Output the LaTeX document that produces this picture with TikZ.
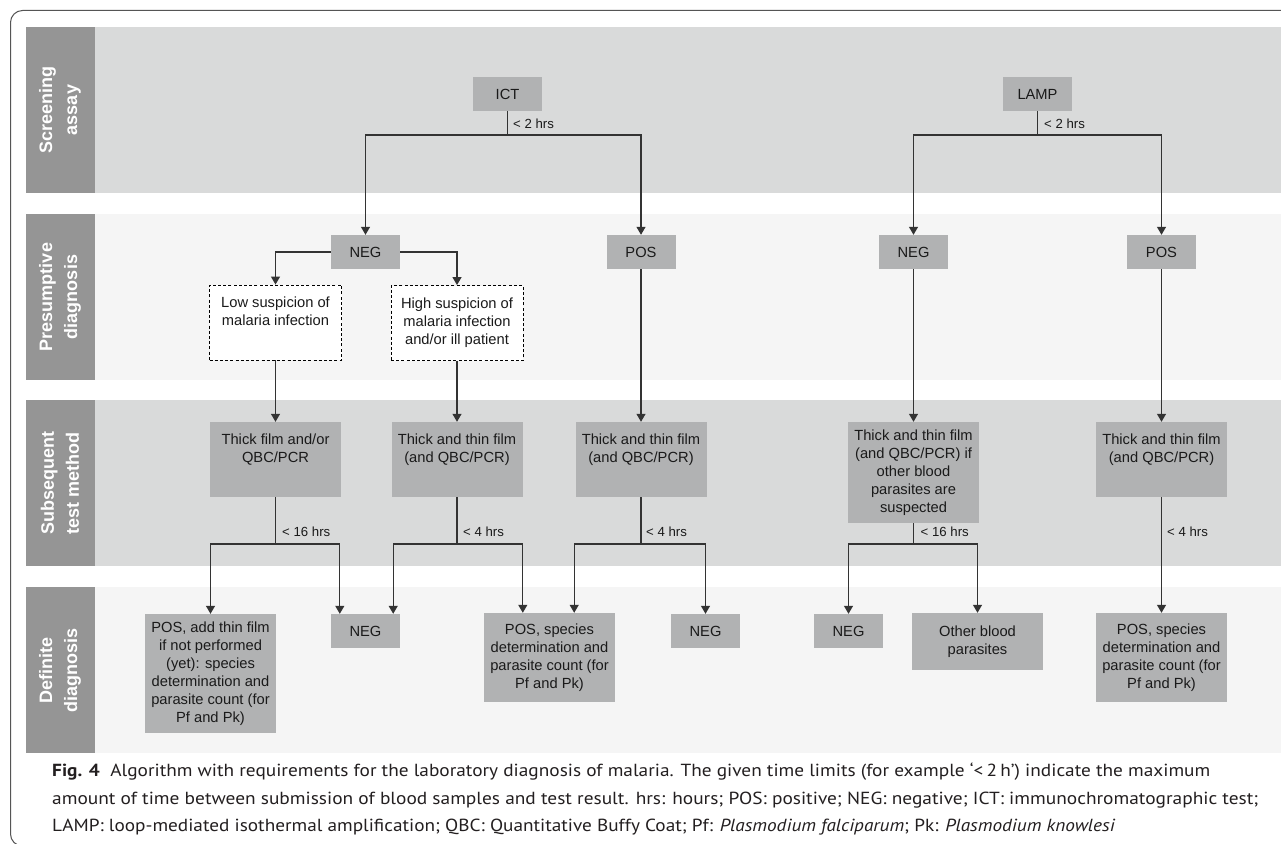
\documentclass[tikz,border=0pt]{standalone}
\usepackage{fontspec}
\usepackage{graphicx}
\setmainfont{Liberation Sans}
\newfontfamily\capfont{PT Sans}
\usetikzlibrary{arrows.meta}
\definecolor{labcol}{HTML}{959595}
\definecolor{banddark}{HTML}{D9DADA}
\definecolor{bandlight}{HTML}{F5F5F5}
\definecolor{boxgray}{HTML}{B1B2B3}
\definecolor{txt}{HTML}{1A1A1A}
\definecolor{linec}{HTML}{333333}
\definecolor{framec}{HTML}{555555}
\definecolor{captxt}{HTML}{231F20}
\begin{document}
\begin{tikzpicture}[x=1pt,y=-1pt,
  bandlabel/.style={rotate=90, text=white, font=\fontsize{18}{25}\selectfont\bfseries, align=center, inner sep=0pt},
  box/.style={fill=boxgray, text=txt, font=\fontsize{14.7}{18}\selectfont, align=center, inner sep=0pt, minimum width=131pt},
  sbox/.style={box, minimum width=69pt, minimum height=34pt},
  dbox/.style={fill=white, draw=black, dash pattern=on 3pt off 2.2pt, line width=0.9pt, text=txt, font=\fontsize{14.7}{18}\selectfont, align=center, inner sep=0pt, minimum width=132pt, minimum height=75pt},
  arr/.style={draw=linec, line width=1.2pt, -{Triangle[width=9pt,length=8pt]}},
  conn/.style={draw=linec, line width=1.2pt},
  lbl/.style={font=\fontsize{13.2}{15}\selectfont, text=txt, anchor=west, inner sep=0pt},
  captext/.style={font=\capfont\fontsize{17.5}{20}\selectfont, text=captxt, anchor=base west, inner sep=0pt}
]
\useasboundingbox (0,0) rectangle (1281,843);
\fill[white] (0,0) rectangle (1281,843);
\draw[framec, line width=1pt, rounded corners=12pt] (10.5,10.5) rectangle (1310,846);
% bands
\fill[banddark] (95,27) rectangle (1281,193);
\fill[bandlight] (95,214) rectangle (1281,380);
\fill[banddark] (95,400) rectangle (1281,566);
\fill[bandlight] (95,587) rectangle (1281,753);
\fill[labcol] (26,27) rectangle (95,193);
\fill[labcol] (26,214) rectangle (95,380);
\fill[labcol] (26,400) rectangle (95,566);
\fill[labcol] (26,587) rectangle (95,753);
\node[bandlabel] (l1) at (60,110) {Screening\\assay};
\node[bandlabel] (l2) at (60,297) {Presumptive\\diagnosis};
\node[bandlabel] (l3) at (60,483) {Subsequent\\test method};
\node[bandlabel] (l4) at (60,670) {Definite\\diagnosis};
% screening
\node[sbox] (ict) at (507.5,94) {ICT};
\node[sbox] (lamp) at (1037.5,94) {LAMP};
% presumptive
\node[sbox] (neg1) at (365.5,252) {NEG};
\node[sbox] (pos1) at (641,252) {POS};
\node[sbox] (neg2) at (913.5,252) {NEG};
\node[sbox] (pos2) at (1161.5,252) {POS};
\node[dbox] (low) at (275.5,322.5) {Low suspicion of\\malaria infection\\\strut};
\node[dbox] (high) at (457,323) {High suspicion of\\malaria infection\\and/or ill patient};
% subsequent
\node[box, minimum height=75pt] (s1) at (275.5,459.5) {Thick film and/or\\QBC/PCR\\\strut};
\node[box, minimum height=75pt] (s2) at (457,459.5) {Thick and thin film\\(and QBC/PCR)\\\strut};
\node[box, minimum height=75pt] (s3) at (641,459.5) {Thick and thin film\\(and QBC/PCR)\\\strut};
\node[box, minimum height=101pt] (s4) at (913.5,472.5) {Thick and thin film\\(and QBC/PCR) if\\other blood\\parasites are\\suspected};
\node[box, minimum height=75pt] (s5) at (1161.5,459.5) {Thick and thin film\\(and QBC/PCR)\\\strut};
% definite
\node[box, minimum height=119pt] (d1) at (210.5,673.5) {POS, add thin film\\if not performed\\(yet): species\\determination and\\parasite count (for\\Pf and Pk)};
\node[sbox] (d2) at (365.5,631) {NEG};
\node[box, minimum height=89pt] (d3) at (549.5,657.5) {POS, species\\determination and\\parasite count (for\\Pf and Pk)};
\node[sbox] (d4) at (705.5,631) {NEG};
\node[sbox] (d5) at (848.5,631) {NEG};
\node[box, minimum height=57pt] (d6) at (977.5,641.5) {Other blood\\parasites};
\node[box, minimum height=89pt] (d7) at (1161.5,657.5) {POS, species\\determination and\\parasite count (for\\Pf and Pk)};
% junctions
\coordinate (j1) at (507.5,135);
\coordinate (j2) at (1037.5,135);
\coordinate (j3) at (275.5,544);
\coordinate (j4) at (457,544);
\coordinate (j5) at (641,544);
\coordinate (j6) at (913.5,544);
% connectors
\draw[conn] (ict) -- (j1);
\draw[arr] (j1) -| (neg1.north);
\draw[arr] (j1) -| (pos1.north);
\draw[conn] (lamp) -- (j2);
\draw[arr] (j2) -| (neg2.north);
\draw[arr] (j2) -| (pos2.north);
\draw[arr] (neg1.west) -| (low.north);
\draw[arr] (neg1.east) -| (high.north);
\draw[arr] (low) -- (s1);
\draw[arr] (high) -- (s2);
\draw[arr] (pos1) -- (s3);
\draw[arr] (neg2) -- (s4);
\draw[arr] (pos2) -- (s5);
\draw[conn] (s1) -- (j3);
\draw[arr] (j3) -| (d1.north);
\draw[arr] (j3) -| ([xshift=9pt]d2.north west);
\draw[conn] (s2) -- (j4);
\draw[arr] (j4) -| ([xshift=-7pt]d2.north east);
\draw[arr] (j4) -| ([xshift=39pt]d3.north west);
\draw[conn] (s3) -- (j5);
\draw[arr] (j5) -| ([xshift=-41pt]d3.north east);
\draw[arr] (j5) -| (d4.north);
\draw[conn] (s4) -- (j6);
\draw[arr] (j6) -| (d5.north);
\draw[arr] (j6) -| (d6.north);
\draw[arr] (s5) -- (d7);
% time labels
\node[lbl] (t1) at (513,124) {< 2 hrs};
\node[lbl] (t2) at (1044,124) {< 2 hrs};
\node[lbl] (t3) at (282,532) {< 16 hrs};
\node[lbl] (t4) at (463,532) {< 4 hrs};
\node[lbl] (t5) at (646,532) {< 4 hrs};
\node[lbl] (t6) at (920.5,532) {< 16 hrs};
\node[lbl] (t7) at (1167,532) {< 4 hrs};
% caption
\node[captext] (c1) at (52,776) {\resizebox{1158pt}{\height}{\textbf{Fig. 4}\hspace{0.55em}Algorithm with requirements for the laboratory diagnosis of malaria. The given time limits (for example ‘<\,2\,h’) indicate the maximum}};
\node[captext] (c2) at (52,804) {\resizebox{1206pt}{\height}{amount of time between submission of blood samples and test result. hrs: hours; POS: positive; NEG: negative; ICT: immunochromatographic test;}};
\node[captext] (c3) at (52,831) {\resizebox{1063pt}{\height}{LAMP: loop-mediated isothermal amplification; QBC: Quantitative Buffy Coat; Pf: \textit{Plasmodium falciparum}; Pk: \textit{Plasmodium knowlesi}}};
\end{tikzpicture}
\end{document}
